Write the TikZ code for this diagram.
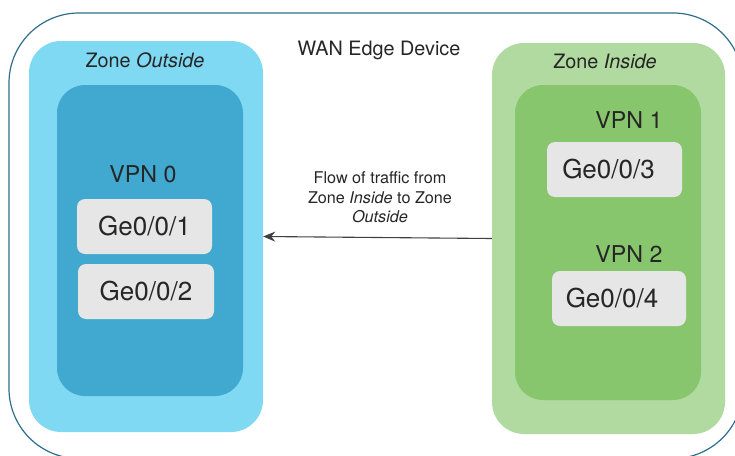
\documentclass[tikz,border=0pt]{standalone}
\usepackage{fontspec}
\setmainfont{TeX Gyre Heros}
\usetikzlibrary{arrows.meta}
\definecolor{framec}{HTML}{2F6E8C}
\definecolor{outlight}{HTML}{80D9F3}
\definecolor{outdark}{HTML}{41A9CF}
\definecolor{inlight}{HTML}{B0DAA0}
\definecolor{indark}{HTML}{88C66E}
\definecolor{geg}{HTML}{E6E6E6}
\definecolor{txt}{HTML}{262626}
\begin{document}
\begin{tikzpicture}[x=1pt,y=-1pt,
  frame/.style={draw=framec, line width=1.2pt, rounded corners=70pt, inner sep=0pt},
  zonebox/.style={rounded corners=32pt, inner sep=0pt, draw=none},
  vpnbox/.style={rounded corners=28pt, inner sep=0pt, draw=none},
  gebox/.style={fill=geg, rounded corners=8pt, inner sep=0pt, minimum width=135pt, minimum height=55pt},
  zonetxt/.style={text=txt, font=\fontsize{19.8}{22}\selectfont, anchor=base, inner sep=0pt},
  vpntxt/.style={text=txt, font=\fontsize{23.2}{26}\selectfont, anchor=base, inner sep=0pt},
  getxt/.style={text=txt, font=\fontsize{26}{28}\selectfont, inner sep=0pt},
  flowtxt/.style={text=txt, font=\fontsize{16.2}{19.8}\selectfont, align=center, inner sep=0pt, anchor=north},
  flowarrow/.style={draw=black!75, line width=1.1pt, -{Stealth[length=12pt,width=10pt]}}
]
\useasboundingbox (0,0) rectangle (735,455);
\begin{scope}
\clip (0,0) rectangle (735,455);
\node[frame, minimum width=734pt, minimum height=445.5pt] (dev) at (376,235.75) {};
\end{scope}

% Zone Outside
\node[zonebox, fill=outlight, minimum width=234pt, minimum height=391pt] (zout) at (146,236.5) {};
\node[vpnbox, fill=outdark, minimum width=186pt, minimum height=311pt] (vpn0) at (150,240.5) {};
\node[gebox] (g1) at (144.5,226.5) {};
\node[gebox, minimum width=136pt] (g2) at (146,291.5) {};
\node[getxt] (g1t) at (g1.center) {Ge0/0/1};
\node[getxt] (g2t) at (g2.center) {Ge0/0/2};
\node[zonetxt] (zoutt) at (145,67) {Zone \textit{Outside}};
\node[vpntxt] (vpn0t) at (143,182) {VPN 0};

% Zone Inside
\node[zonebox, fill=inlight, minimum width=233pt, minimum height=391pt] (zin) at (608.5,238.5) {};
\node[vpnbox, fill=indark, minimum width=186pt, minimum height=315pt] (vpnin) at (608,242.5) {};
\node[gebox] (g3) at (614.5,169.5) {};
\node[gebox, minimum width=134pt] (g4) at (619,298.5) {};
\node[getxt] (g3t) at ([xshift=-6pt]g3.center) {Ge0/0/3};
\node[getxt] (g4t) at ([xshift=-7pt]g4.center) {Ge0/0/4};
\node[zonetxt] (zint) at (605,68) {Zone \textit{Inside}};
\node[vpntxt] (vpn1t) at (629,128) {VPN 1};
\node[vpntxt] (vpn2t) at (629,262) {VPN 2};

% Title and flow
\node[zonetxt] (title) at (379,55) {WAN Edge Device};
\node[flowtxt] (flow) at (380,171.2) {Flow of traffic from\\Zone \textit{Inside} to Zone\\\textit{Outside}};
\draw[flowarrow] (zin.west) -- (zout.east);
\end{tikzpicture}
\end{document}
